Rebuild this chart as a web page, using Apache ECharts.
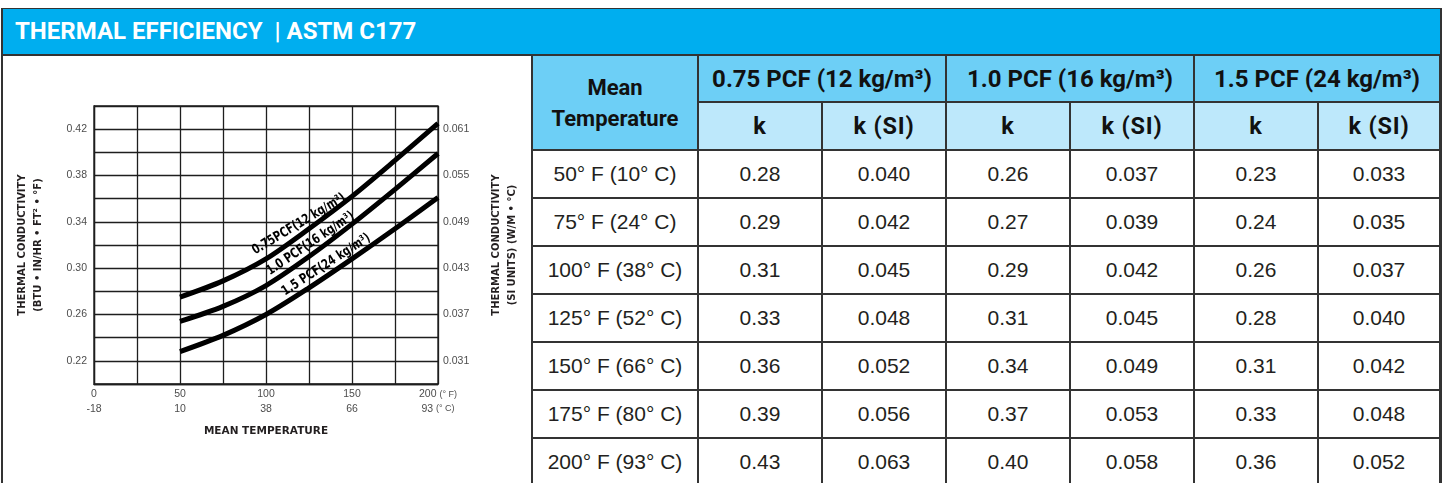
<!DOCTYPE html>
<html>
<head>
<meta charset="utf-8">
<script src="https://cdn.jsdelivr.net/npm/echarts@6/dist/echarts.min.js"></script>
<style>
html,body{margin:0;padding:0;width:1442px;height:483px;overflow:hidden;background:#fff;}
#chart{position:absolute;left:0;top:0;width:1442px;height:483px;z-index:1;}
#frame{position:absolute;left:1px;top:8px;width:1437px;height:480px;border-left:2px solid #333;border-right:2px solid #333;z-index:3;pointer-events:none;}
#title{position:absolute;left:1px;top:8px;width:1441px;height:48px;box-sizing:border-box;background:#00aeef;border-top:1px solid #333;border-bottom:2px solid #333;color:#fff;font:bold 24px Roboto,"Liberation Sans",sans-serif;line-height:45px;padding-left:14px;z-index:2;}
#tbl{position:absolute;left:531px;top:54px;border-collapse:collapse;table-layout:fixed;width:908px;z-index:2;background:#fff;}
#tbl td,#tbl th{border:2px solid #333;text-align:center;padding:0;overflow:hidden;white-space:nowrap;}
#tbl th{font:bold 22px Roboto,"Liberation Sans",sans-serif;color:#111;}
#tbl th.h1{background:#6dcff6;}
#tbl th.dh{font-size:24px;}
#tbl th.h2{background:#bde8fb;font-size:23.5px;letter-spacing:0.8px;}
#tbl th.mt{line-height:31px;}
#tbl td{font:21px "Liberation Sans",Arial,sans-serif;color:#231f20;}
</style>
</head>
<body>
<div id="chart"></div>
<div id="title">THERMAL EFFICIENCY &nbsp;| ASTM C177</div>
<table id="tbl"></table>
<div id="frame"></div>
<script>
// ---------- chart data ----------
const tempF = [50, 75, 100, 125, 150, 175, 200];
const curve075 = [0.275, 0.289, 0.308, 0.334, 0.362, 0.393, 0.425];
const curve10  = [0.254, 0.267, 0.285, 0.310, 0.338, 0.368, 0.399];
const curve15  = [0.228, 0.242, 0.260, 0.283, 0.308, 0.334, 0.361];
const curveNames = ['0.75PCF(12 kg/m³)', '1.0 PCF(16 kg/m³)', '1.5 PCF(24 kg/m³)'];
const leftTicks = [0.22, 0.26, 0.30, 0.34, 0.38, 0.42];
const rightTicks = ['0.031', '0.037', '0.043', '0.049', '0.055', '0.061'];
const xTicksF = [0, 50, 100, 150, 200];
const xTicksC = ['-18', '10', '38', '66', '93'];

// ---------- table data ----------
const densityHeads = ['0.75 PCF (12 kg/m³)', '1.0 PCF (16 kg/m³)', '1.5 PCF (24 kg/m³)'];
const subHeads = ['k', 'k (SI)'];
const meanTemps = ['50° F (10° C)', '75° F (24° C)', '100° F (38° C)', '125° F (52° C)', '150° F (66° C)', '175° F (80° C)', '200° F (93° C)'];
const k075 = [0.28, 0.29, 0.31, 0.33, 0.36, 0.39, 0.43];
const kSI075 = [0.040, 0.042, 0.045, 0.048, 0.052, 0.056, 0.063];
const k10 = [0.26, 0.27, 0.29, 0.31, 0.34, 0.37, 0.40];
const kSI10 = [0.037, 0.039, 0.042, 0.045, 0.049, 0.053, 0.058];
const k15 = [0.23, 0.24, 0.26, 0.28, 0.31, 0.33, 0.36];
const kSI15 = [0.033, 0.035, 0.037, 0.040, 0.042, 0.048, 0.052];

// ---------- build table ----------
(function buildTable(){
  const colW = [166, 124, 124, 124, 124, 124, 122];
  let h = '<colgroup>' + colW.map(w => '<col style="width:' + w + 'px">').join('') + '</colgroup>';
  h += '<tr style="height:47px"><th class="h1 mt" rowspan="2">Mean<br>Temperature</th>' +
       densityHeads.map(d => '<th class="h1 dh" colspan="2">' + d + '</th>').join('') + '</tr>';
  h += '<tr style="height:48px">' + densityHeads.map(() => subHeads.map(s => '<th class="h2">' + s + '</th>').join('')).join('') + '</tr>';
  const cols = [[k075, kSI075], [k10, kSI10], [k15, kSI15]];
  meanTemps.forEach((t, r) => {
    h += '<tr style="height:48px"><td>' + t + '</td>' +
      cols.map(c => '<td>' + c[0][r].toFixed(2) + '</td><td>' + c[1][r].toFixed(3) + '</td>').join('') + '</tr>';
  });
  document.getElementById('tbl').innerHTML = h;
})();

// ---------- chart ----------
const chart = echarts.init(document.getElementById('chart'));
const curves = [curve075, curve10, curve15];
const gridColor = '#1e1e1e';
const tickFont = '"Liberation Sans", Arial, sans-serif';
const nameStyle = {fontFamily: '"DejaVu Sans", sans-serif', fontWeight: 'bold', fontSize: 10, color: '#231f20', lineHeight: 16};

chart.setOption({
  animation: false,
  grid: {left: 94, top: 106, width: 344, height: 278, show: true, borderColor: gridColor, borderWidth: 1.3},
  xAxis: {
    type: 'value', min: 0, max: 200, interval: 25,
    axisLine: {show: true, lineStyle: {color: gridColor, width: 1.3}},
    axisTick: {show: false},
    splitLine: {show: true, lineStyle: {color: gridColor, width: 1.3}},
    axisLabel: {
      margin: 3, showMinLabel: true, showMaxLabel: true, color: '#4d4d4d',
      fontFamily: tickFont, fontSize: 10.5, lineHeight: 14.5,
      formatter: v => {
        const i = xTicksF.findIndex(t => Math.abs(t - v) < 1e-6);
        if (i < 0) return '';
        if (i === xTicksF.length - 1) return '{n|' + xTicksF[i] + '} {u|(° F)}\n{n|' + xTicksC[i] + '} {u|(° C)}';
        return '{n|' + xTicksF[i] + '}\n{n|' + xTicksC[i] + '}';
      },
      rich: {
        n: {fontFamily: tickFont, fontSize: 10.5, color: '#4d4d4d', lineHeight: 14.5},
        u: {fontFamily: tickFont, fontSize: 9, color: '#4d4d4d', lineHeight: 14.5}
      }
    },
    name: 'MEAN TEMPERATURE', nameLocation: 'middle', nameGap: 39,
    nameTextStyle: Object.assign({}, nameStyle, {fontSize: 10.5})
  },
  yAxis: [{
    type: 'value', position: 'left', min: 0.20, max: 0.44, interval: 0.02,
    axisLine: {show: true, lineStyle: {color: gridColor, width: 1.3}},
    axisTick: {show: false},
    splitLine: {show: true, lineStyle: {color: gridColor, width: 1.3}},
    axisLabel: {
      margin: 7, color: '#4d4d4d', fontFamily: tickFont, fontSize: 10.5,
      formatter: v => leftTicks.some(t => Math.abs(t - v) < 1e-6) ? v.toFixed(2) : ''
    },
    name: 'THERMAL CONDUCTIVITY\n(BTU • IN/HR • FT² • °F)', nameLocation: 'middle', nameRotate: 90, nameGap: 48,
    nameTextStyle: nameStyle
  }, {
    type: 'value', position: 'right', min: 0.028, max: 0.064, interval: 0.001,
    axisLine: {show: false}, axisTick: {show: false}, splitLine: {show: false},
    axisLabel: {
      margin: 5, color: '#4d4d4d', fontFamily: tickFont, fontSize: 10.5,
      formatter: v => {
        const i = rightTicks.findIndex(t => Math.abs(parseFloat(t) - v) < 1e-6);
        return i < 0 ? '' : rightTicks[i];
      }
    },
    name: 'THERMAL CONDUCTIVITY\n(SI UNITS) (W/M • °C)', nameLocation: 'middle', nameRotate: 90, nameGap: 50,
    nameTextStyle: nameStyle
  }],
  series: curves.map((c, i) => ({
    name: curveNames[i], type: 'line', yAxisIndex: 0, xAxisIndex: 0,
    data: tempF.map((f, j) => [f, c[j]]),
    smooth: 0.3, symbol: 'none', silent: true,
    lineStyle: {color: '#000', width: 5}, z: 5
  }))
});

// curve labels, centred above each curve (position derived from the series data)
const labelAtF = [122, 129, 138];
const labelRotateDeg = [31, 34, 33];
const labelGap = 9.5;
function curveValueAt(c, F) {
  let j = 0;
  while (j < tempF.length - 2 && tempF[j + 1] < F) j++;
  const t = (F - tempF[j]) / (tempF[j + 1] - tempF[j]);
  return c[j] + (c[j + 1] - c[j]) * t;
}
const gfx = curves.map((c, i) => {
  const p = chart.convertToPixel({xAxisIndex: 0, yAxisIndex: 0}, [labelAtF[i], curveValueAt(c, labelAtF[i])]);
  const th = labelRotateDeg[i] * Math.PI / 180;
  return {
    type: 'text', x: p[0] - labelGap * Math.sin(th), y: p[1] - labelGap * Math.cos(th),
    rotation: th, scaleX: 0.75, z: 100,
    style: {text: curveNames[i], font: 'bold 13.5px "DejaVu Sans", sans-serif', fill: '#000',
            textAlign: 'center', textVerticalAlign: 'middle', align: 'center', verticalAlign: 'middle'}
  };
});
chart.setOption({graphic: gfx});
</script>
</body>
</html>
